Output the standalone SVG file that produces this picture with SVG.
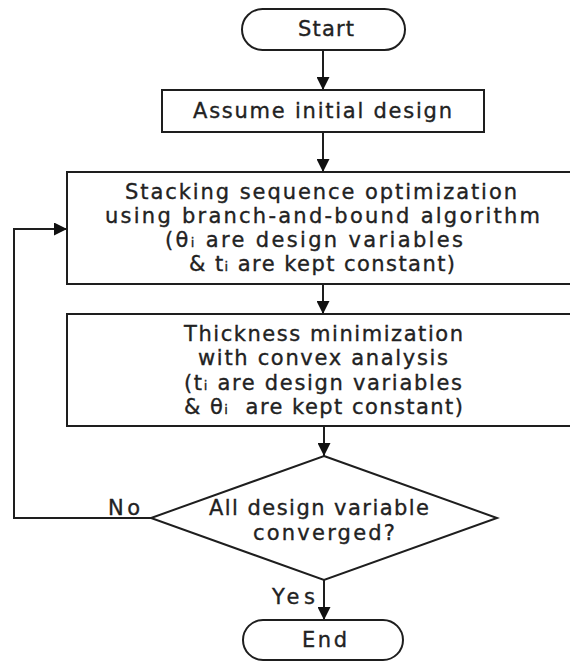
<svg xmlns="http://www.w3.org/2000/svg" width="570" height="662" viewBox="0 0 570 662">
  <defs>
    <marker id="arrow" markerUnits="userSpaceOnUse" markerWidth="14" markerHeight="13" refX="13" refY="6.5" orient="auto">
      <path d="M0,0 L13,6.5 L0,13 z" fill="#111"/>
    </marker>
    <style>
      .shape { fill: #fff; stroke: #1e1e1e; stroke-width: 2; }
      .edge { fill: none; stroke: #1e1e1e; stroke-width: 2; marker-end: url(#arrow); }
      text { font-family: "DejaVu Sans", "Liberation Sans", sans-serif; font-size: 21px; fill: #222; stroke: #222; stroke-width: 0.35; }
      .sub { font-size: 13px; }
    </style>
  </defs>
  <rect width="570" height="662" fill="#fff"/>

  <g id="connectors">
    <line class="edge" x1="323" y1="50" x2="323" y2="90"/>
    <line class="edge" x1="323" y1="132" x2="323" y2="172"/>
    <line class="edge" x1="323" y1="284" x2="323" y2="314"/>
    <line class="edge" x1="324" y1="426" x2="324" y2="456"/>
    <line class="edge" x1="324" y1="580" x2="324" y2="620"/>
    <polyline class="edge" points="151,518 14,518 14,229 67,229"/>
    <text x="108" y="515" textLength="32" lengthAdjust="spacing">No</text>
    <text x="272" y="604" textLength="43" lengthAdjust="spacing">Yes</text>
  </g>

  <g id="start">
    <rect class="shape" x="242" y="9" width="163" height="41" rx="20.5"/>
    <text x="298" y="36" textLength="56" lengthAdjust="spacing">Start</text>
  </g>

  <g id="initial-design">
    <rect class="shape" x="162" y="90" width="322" height="42"/>
    <text x="193" y="118" textLength="259" lengthAdjust="spacing">Assume initial design</text>
  </g>

  <g id="stacking-optimization">
    <rect class="shape" x="67" y="172" width="506" height="112"/>
    <text x="125" y="199" textLength="392" lengthAdjust="spacing">Stacking sequence optimization</text>
    <text x="105" y="223" textLength="435" lengthAdjust="spacing">using branch-and-bound algorithm</text>
    <text x="165" y="247" textLength="298" lengthAdjust="spacing">(θ<tspan class="sub">i</tspan> are design variables</text>
    <text x="189" y="271" textLength="266" lengthAdjust="spacing">&amp; t<tspan class="sub">i</tspan> are kept constant)</text>
  </g>

  <g id="thickness-minimization">
    <rect class="shape" x="67" y="314" width="506" height="112"/>
    <text x="184" y="341" textLength="279" lengthAdjust="spacing">Thickness minimization</text>
    <text x="198" y="365" textLength="250" lengthAdjust="spacing">with convex analysis</text>
    <text x="184" y="390" textLength="278" lengthAdjust="spacing">(t<tspan class="sub">i</tspan> are design variables</text>
    <text x="184" y="414" textLength="279" lengthAdjust="spacing" xml:space="preserve">&amp; θ<tspan class="sub">i</tspan>  are kept constant)</text>
  </g>

  <g id="convergence-check">
    <polygon class="shape" points="324,456 497,518 324,580 151,518"/>
    <text x="209" y="515" textLength="220" lengthAdjust="spacing">All design variable</text>
    <text x="253" y="540" textLength="142" lengthAdjust="spacing">converged?</text>
  </g>

  <g id="end">
    <rect class="shape" x="243" y="620" width="160" height="40" rx="20"/>
    <text x="302" y="647" textLength="45" lengthAdjust="spacing">End</text>
  </g>
</svg>
